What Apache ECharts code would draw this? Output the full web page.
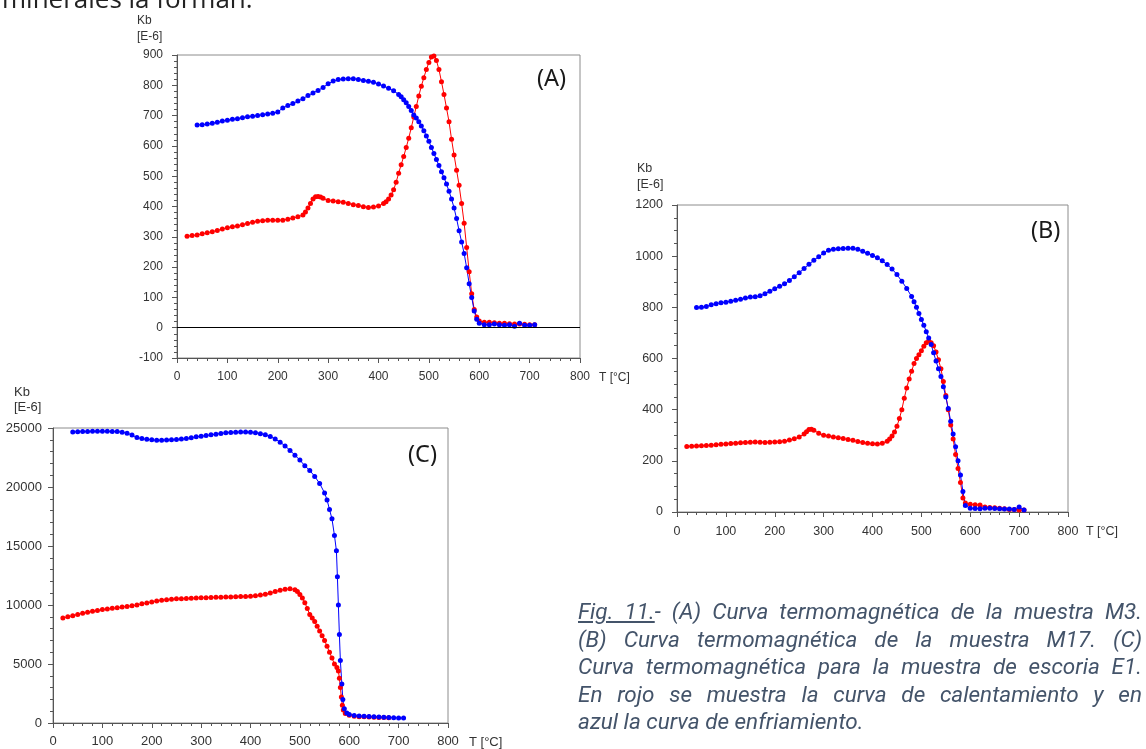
<!DOCTYPE html>
<html>
<head>
<meta charset="utf-8">
<script src="https://cdn.jsdelivr.net/npm/echarts@6/dist/echarts.min.js"></script>
<style>
html, body { margin: 0; padding: 0; background: #fff; }
#page { position: relative; width: 1146px; height: 749px; overflow: hidden; }
#chart { position: absolute; left: 0; top: 0; width: 1146px; height: 749px; }
#topline { position: absolute; left: 2px; top: -15px; font-family: 'Open Sans'; font-size: 26px; line-height: 27px; color: #222; white-space: nowrap; }
#caption { position: absolute; left: 578px; top: 598px; width: 564px; font-family: Roboto; font-style: italic; font-size: 22.5px; line-height: 27.5px; color: #44546a; }
#caption div { text-align: justify; text-align-last: justify; white-space: nowrap; }
#caption div.last { text-align-last: left; }
#caption .u { text-decoration: underline; }
</style>
</head>
<body>
<div id="page">
  <div id="chart"></div>
  <div id="topline">minerales la forman.</div>
  <div id="caption">
    <div><span class="u">Fig. 11.</span>- (A) Curva termomagnética de la muestra M3.</div>
    <div>(B) Curva termomagnética de la muestra M17. (C)</div>
    <div>Curva termomagnética para la muestra de escoria E1.</div>
    <div>En rojo se muestra la curva de calentamiento y en</div>
    <div class="last">azul la curva de enfriamiento.</div>
  </div>
</div>
<script>
// curvas: [T (°C), Kb (E-6)]
// (A) muestra M3
var heatA = [[20,302],[30,304],[40,306],[50,310],[60,313],[70,317],[80,321],[90,326],[100,330],[110,333],[120,336],[130,340],[140,344],[150,348],[160,351],[170,353],[180,355],[190,355],[200,355],[210,355],[220,358],[230,362],[240,366],[250,372],[255,382],[260,395],[265,410],[270,425],[275,432],[280,433],[285,431],[290,427],[300,420],[310,418],[320,416],[330,414],[340,410],[350,406],[360,403],[370,399],[380,397],[390,398],[400,402],[410,410],[415,416],[420,425],[425,438],[430,455],[435,480],[440,510],[445,538],[450,565],[455,595],[460,625],[465,660],[470,695],[475,730],[480,765],[485,797],[490,825],[495,852],[500,875],[505,893],[510,897],[515,882],[520,852],[525,812],[530,770],[535,725],[540,680],[545,622],[550,570],[555,520],[560,470],[565,410],[570,345],[575,265],[580,185],[585,112],[590,60],[595,35],[600,22],[610,18],[620,18],[630,16],[640,15],[650,15],[660,13],[670,12],[680,12],[690,11],[700,10],[710,10]];
var coolA = [[40,669],[50,670],[60,672],[70,675],[80,678],[90,682],[100,685],[110,688],[120,690],[130,693],[140,696],[150,698],[160,700],[170,703],[180,705],[190,708],[200,712],[210,725],[220,733],[230,740],[240,748],[250,756],[260,766],[270,775],[280,783],[290,793],[300,805],[310,814],[320,819],[330,821],[340,822],[350,822],[360,819],[370,816],[380,813],[390,810],[400,804],[410,798],[420,790],[430,782],[440,770],[445,762],[450,752],[455,742],[460,730],[465,717],[470,702],[475,692],[480,680],[485,666],[490,650],[495,633],[500,615],[505,595],[510,575],[515,555],[520,535],[525,515],[530,495],[535,474],[540,450],[545,425],[550,395],[555,360],[560,320],[565,283],[570,245],[575,198],[580,145],[585,100],[590,55],[595,28],[600,15],[610,10],[620,10],[630,12],[640,10],[650,8],[660,10],[670,5],[680,15],[690,8],[700,8],[710,10]];

// (B) muestra M17
var heatB = [[20,256],[30,257],[40,258],[50,259],[60,260],[70,261],[80,263],[90,265],[100,266],[110,268],[120,269],[130,271],[140,272],[150,273],[160,274],[170,273],[180,272],[190,273],[200,274],[210,275],[220,277],[230,281],[240,286],[250,293],[260,305],[265,314],[270,322],[275,323],[280,320],[290,308],[300,300],[310,297],[320,293],[330,290],[340,287],[350,283],[360,280],[370,276],[380,272],[390,269],[400,267],[410,266],[420,269],[430,277],[435,285],[440,297],[445,313],[450,335],[455,365],[460,400],[465,445],[470,485],[475,520],[480,550],[485,580],[490,600],[495,615],[500,630],[505,648],[510,662],[515,668],[520,662],[525,650],[530,625],[535,595],[540,560],[545,510],[550,455],[555,400],[560,340],[565,285],[570,225],[575,170],[580,115],[585,55],[590,35],[600,30],[610,28],[620,27],[630,20],[640,18],[650,17],[660,15],[670,13],[680,10],[690,10],[700,8],[710,8]];
var coolB = [[40,799],[50,800],[60,803],[70,810],[80,814],[90,818],[100,820],[110,824],[120,828],[130,832],[140,836],[150,840],[160,841],[170,845],[180,853],[190,863],[200,873],[210,882],[220,892],[230,905],[240,920],[250,935],[260,952],[270,968],[280,984],[290,998],[300,1012],[310,1023],[320,1027],[330,1029],[340,1030],[350,1031],[360,1031],[370,1027],[380,1019],[390,1011],[400,1003],[410,994],[420,982],[430,967],[440,950],[450,928],[460,902],[470,874],[480,842],[485,822],[490,800],[495,776],[500,752],[505,730],[510,705],[515,680],[520,655],[525,622],[530,590],[535,560],[540,530],[545,490],[550,450],[555,405],[560,355],[565,305],[570,255],[575,200],[580,145],[585,80],[590,25],[600,15],[610,14],[620,13],[630,15],[640,15],[650,14],[660,13],[670,12],[680,12],[690,10],[700,20],[710,8]];

// (C) escoria E1
var heatC = [[20,8900],[30,9000],[40,9080],[50,9200],[60,9300],[70,9380],[80,9460],[90,9540],[100,9610],[110,9660],[120,9720],[130,9760],[140,9830],[150,9880],[160,9940],[170,10000],[180,10100],[190,10180],[200,10260],[210,10330],[220,10400],[230,10450],[240,10490],[250,10520],[260,10540],[270,10560],[280,10580],[290,10600],[300,10610],[310,10620],[320,10640],[330,10650],[340,10660],[350,10670],[360,10680],[370,10700],[380,10710],[390,10720],[400,10740],[410,10780],[420,10850],[430,10920],[440,11020],[450,11150],[460,11250],[470,11330],[480,11380],[490,11300],[495,11150],[500,10900],[505,10600],[510,10200],[515,9700],[520,9200],[525,8900],[530,8600],[535,8200],[540,7800],[545,7400],[550,7000],[555,6500],[560,6000],[565,5500],[570,5000],[575,4700],[578,4400],[580,3800],[582,3000],[584,2200],[586,1500],[588,1100],[592,800],[600,650],[610,580],[620,540],[630,520],[640,500],[650,490],[660,470],[670,460],[680,450]];
var coolC = [[40,24660],[50,24680],[60,24700],[70,24700],[80,24720],[90,24720],[100,24720],[110,24720],[120,24700],[130,24700],[140,24650],[150,24560],[160,24400],[170,24200],[180,24100],[190,24050],[200,24000],[210,23960],[220,23970],[230,23990],[240,24010],[250,24030],[260,24060],[270,24100],[280,24180],[290,24250],[300,24300],[310,24360],[320,24420],[330,24480],[340,24540],[350,24590],[360,24620],[370,24650],[380,24660],[390,24660],[400,24650],[410,24600],[420,24520],[430,24420],[440,24270],[450,24070],[460,23800],[470,23480],[480,23100],[490,22700],[500,22280],[510,21800],[520,21400],[530,20900],[540,20300],[550,19500],[555,18900],[560,18100],[565,17300],[570,15900],[574,14600],[576,12400],[578,10000],[580,7500],[582,5300],[585,3300],[587,2000],[590,1200],[595,850],[600,720],[610,640],[620,600],[630,580],[640,560],[650,540],[660,510],[670,490],[680,470],[690,450],[700,430],[710,420]];

// ejes
var tempTicks = { min: 0, max: 800, interval: 100 };
var kbTicksA = { min: -100, max: 900, interval: 100, minor: 5 };
var kbTicksB = { min: 0, max: 1200, interval: 200, minor: 4 };
var kbTicksC = { min: 0, max: 25000, interval: 5000, minor: 5 };

var axisColor = '#555';
var labelColor = '#333';
var labelFont = 'Liberation Sans';

// sin separador de miles
function plainNumber(v) { return String(v); }

function xAxisFor(gridIndex, fontSize, margin) {
    return {
        type: 'value',
        gridIndex: gridIndex,
        min: tempTicks.min,
        max: tempTicks.max,
        interval: tempTicks.interval,
        axisLine: { show: true, onZero: false, lineStyle: { color: axisColor } },
        axisTick: { show: true, length: 5, lineStyle: { color: axisColor } },
        minorTick: { show: true, splitNumber: 5, length: 3, lineStyle: { color: axisColor } },
        splitLine: { show: false },
        axisLabel: { margin: margin, fontSize: fontSize, color: labelColor, fontFamily: labelFont, formatter: plainNumber }
    };
}

function yAxisFor(gridIndex, t, fontSize, margin) {
    return {
        type: 'value',
        gridIndex: gridIndex,
        min: t.min,
        max: t.max,
        interval: t.interval,
        axisLine: { show: true, onZero: false, lineStyle: { color: axisColor } },
        axisTick: { show: true, length: 5, lineStyle: { color: axisColor } },
        minorTick: { show: true, splitNumber: t.minor, length: 3, lineStyle: { color: axisColor } },
        splitLine: { show: false },
        axisLabel: { margin: margin, fontSize: fontSize, color: labelColor, fontFamily: labelFont, formatter: plainNumber }
    };
}

function curve(name, data, color, gridIndex) {
    return {
        name: name,
        type: 'line',
        xAxisIndex: gridIndex,
        yAxisIndex: gridIndex,
        data: data,
        symbol: 'circle',
        symbolSize: 5,
        showSymbol: true,
        itemStyle: { color: color },
        lineStyle: { color: color, width: 1 },
        animation: false
    };
}

function textAt(x, y, text, size, extra) {
    var style = { x: x, y: y, text: text, fontSize: size, fontFamily: labelFont, fill: labelColor };
    for (var k in extra) style[k] = extra[k];
    return { type: 'text', style: style, silent: true };
}

var chart = echarts.init(document.getElementById('chart'));

var heatingA = curve('calentamiento A', heatA, '#ff0000', 0);
// linea del cero en (A)
heatingA.markLine = {
    silent: true,
    symbol: 'none',
    label: { show: false },
    lineStyle: { color: '#000', type: 'solid', width: 1 },
    data: [{ yAxis: 0 }]
};

chart.setOption({
    backgroundColor: '#fff',
    animation: false,
    grid: [
        { left: 177, top: 55, width: 403, height: 303, show: true, borderColor: '#8c8c8c', backgroundColor: 'transparent' },
        { left: 677, top: 205, width: 391, height: 307, show: true, borderColor: '#8c8c8c', backgroundColor: 'transparent' },
        { left: 53, top: 428, width: 395, height: 295, show: true, borderColor: '#8c8c8c', backgroundColor: 'transparent' }
    ],
    xAxis: [xAxisFor(0, 12, 13), xAxisFor(1, 12.5, 13), xAxisFor(2, 13, 12)],
    yAxis: [yAxisFor(0, kbTicksA, 12, 14), yAxisFor(1, kbTicksB, 12.5, 14), yAxisFor(2, kbTicksC, 13, 11)],
    series: [
        heatingA,
        curve('enfriamiento A', coolA, '#0000ff', 0),
        curve('calentamiento B', heatB, '#ff0000', 1),
        curve('enfriamiento B', coolB, '#0000ff', 1),
        curve('calentamiento C', heatC, '#ff0000', 2),
        curve('enfriamiento C', coolC, '#0000ff', 2)
    ],
    graphic: [
        textAt(137, 13, 'Kb\n[E-6]', 12, { lineHeight: 16 }),
        textAt(637, 161, 'Kb\n[E-6]', 12.5, { lineHeight: 16 }),
        textAt(14, 385, 'Kb\n[E-6]', 13, { lineHeight: 15 }),
        textAt(599, 378, 'T [°C]', 12, { verticalAlign: 'middle' }),
        textAt(1086, 532, 'T [°C]', 12.5, { verticalAlign: 'middle' }),
        textAt(469, 742, 'T [°C]', 13, { verticalAlign: 'middle' }),
        textAt(537, 79, '(A)', 23.5, { verticalAlign: 'middle', fontFamily: 'Noto Sans', fill: '#1a1a1a' }),
        textAt(1031, 231, '(B)', 23.5, { verticalAlign: 'middle', fontFamily: 'Noto Sans', fill: '#1a1a1a' }),
        textAt(408, 455, '(C)', 23.5, { verticalAlign: 'middle', fontFamily: 'Noto Sans', fill: '#1a1a1a' })
    ]
});
</script>
</body>
</html>
